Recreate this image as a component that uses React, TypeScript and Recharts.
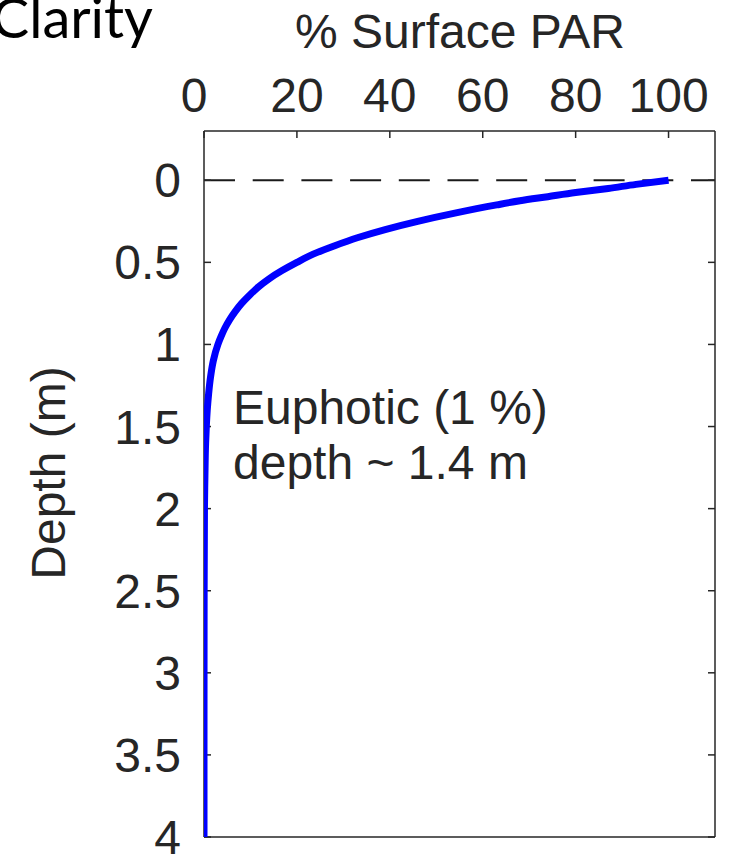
import React from 'react';
import { ScatterChart, Scatter, XAxis, YAxis, ReferenceLine } from 'recharts';

const depthValues = [0, 0.025, 0.05, 0.075, 0.1, 0.125, 0.15, 0.2, 0.25, 0.3, 0.35, 0.4, 0.45, 0.5, 0.55, 0.6, 0.65, 0.7, 0.75, 0.8, 0.85, 0.9, 0.95, 1.0, 1.1, 1.2, 1.3, 1.4, 1.5, 1.6, 1.8, 2.0, 2.5, 3.0, 3.5, 4.0];
const parValues = [100, 93, 87, 80, 74, 68, 63, 54, 46, 39, 33, 28, 23.5, 20, 16.8, 14, 11.7, 9.8, 8.1, 6.7, 5.5, 4.5, 3.7, 3.0, 2.0, 1.4, 1.0, 0.7, 0.5, 0.35, 0.2, 0.1, 0.03, 0.01, 0, 0];

const xTicks = [0, 20, 40, 60, 80, 100];
const yTicks = [0, 0.5, 1, 1.5, 2, 2.5, 3, 3.5, 4];
const xDomain: [number, number] = [0, 110];
const yDomain: [number, number] = [-0.3, 4];

const xLabel = '% Surface PAR';
const yLabel = 'Depth (m)';
const titleText = 'Clarity';
const noteLines = ['Euphotic (1 %)', 'depth ~ 1.4 m'];

const data = depthValues.map((d, i) => ({ depth: d, par: parValues[i] }));

const FONT = '"Liberation Sans", Arial, Helvetica, sans-serif';
const TXT = '#262626';
const FS = 48;

const XTick = (props: any) => {
  const { x, y, payload } = props;
  const shift = payload.value === 0 ? -10 : 0;
  return (
    <text x={x + shift} y={y} textAnchor="middle" fontFamily={FONT} fontSize={FS} fill={TXT}>
      {String(payload.value)}
    </text>
  );
};

const YTick = (props: any) => {
  const { x, y, payload } = props;
  return (
    <text x={x} y={y + 17} textAnchor="end" fontFamily={FONT} fontSize={FS} fill={TXT}>
      {String(payload.value)}
    </text>
  );
};

const EmptyTick = () => <g />;
const NoShape = () => <g />;

const axisStroke = { stroke: '#262626', strokeWidth: 1.5 };

export default function App() {
  return (
    <div style={{ position: 'absolute', left: 0, top: 0, width: 730, height: 858, background: '#fff' }}>
      <ScatterChart width={730} height={858} margin={{ top: 0, right: 0, bottom: 0, left: 0 }}>
        <XAxis
          xAxisId="top"
          orientation="top"
          type="number"
          dataKey="par"
          domain={xDomain}
          ticks={xTicks}
          allowDataOverflow
          height={131}
          tickSize={-7}
          tickMargin={26}
          tick={XTick}
          axisLine={axisStroke}
          tickLine={axisStroke}
        />
        <XAxis
          xAxisId="bottom"
          orientation="bottom"
          type="number"
          domain={xDomain}
          ticks={xTicks}
          allowDataOverflow
          height={21}
          tickSize={-7}
          tick={EmptyTick}
          axisLine={axisStroke}
          tickLine={axisStroke}
        />
        <YAxis
          yAxisId="left"
          orientation="left"
          type="number"
          dataKey="depth"
          domain={yDomain}
          ticks={yTicks}
          reversed
          allowDataOverflow
          width={204}
          tickSize={-7}
          tickMargin={30}
          tick={YTick}
          axisLine={axisStroke}
          tickLine={axisStroke}
        />
        <YAxis
          yAxisId="right"
          orientation="right"
          type="number"
          domain={yDomain}
          ticks={yTicks}
          reversed
          allowDataOverflow
          width={15}
          tickSize={-7}
          tick={EmptyTick}
          axisLine={axisStroke}
          tickLine={axisStroke}
        />
        <ReferenceLine
          xAxisId="top"
          yAxisId="left"
          y={0}
          stroke="#1a1a1a"
          strokeWidth={2}
          strokeDasharray="31 17.7"
        />
        <Scatter
          xAxisId="top"
          yAxisId="left"
          data={data}
          line={{ stroke: '#0000ff', strokeWidth: 7 }}
          lineJointType="monotoneY"
          shape={NoShape}
          isAnimationActive={false}
        />
      </ScatterChart>
      <svg
        width={730}
        height={858}
        style={{ position: 'absolute', left: 0, top: 0, pointerEvents: 'none' }}
      >
        <text x={153} y={38} textAnchor="end" fontFamily="Lato, 'Open Sans', sans-serif" fontSize={56} fill="#000">
          {titleText}
        </text>
        <text x={460} y={48} textAnchor="middle" fontFamily={FONT} fontSize={FS} fill={TXT}>
          {xLabel}
        </text>
        <text
          x={65}
          y={473}
          textAnchor="middle"
          fontFamily={FONT}
          fontSize={FS}
          fill={TXT}
          transform="rotate(-90 65 473)"
        >
          {yLabel}
        </text>
        <text x={233} y={424} fontFamily={FONT} fontSize={FS} fill={TXT}>
          {noteLines[0]}
        </text>
        <text x={233} y={479} fontFamily={FONT} fontSize={FS} fill={TXT}>
          {noteLines[1]}
        </text>
      </svg>
    </div>
  );
}
